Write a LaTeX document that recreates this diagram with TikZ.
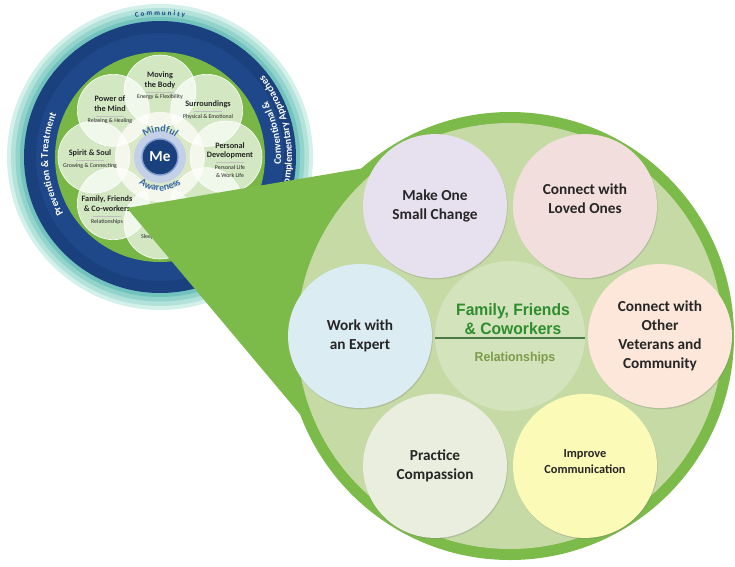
\documentclass[tikz,border=0pt]{standalone}
\usepackage{fontspec}
\setmainfont{Carlito}
\newfontfamily\titlefont[FakeStretch=0.95]{Liberation Sans}
\usepackage{tikz}
\usetikzlibrary{positioning, shadows, decorations.text}
\usepackage{xcolor}
\definecolor{ringgreen}{HTML}{7CBA4A}
\definecolor{wheelgreen}{HTML}{78B646}
\definecolor{innergreen}{HTML}{C5DAA4}
\definecolor{hubgreen}{HTML}{D3E3BB}
\definecolor{titlegreen}{HTML}{2F8C2F}
\definecolor{relgreen}{HTML}{7D9C4A}
\definecolor{rulegreen}{HTML}{4C7A44}
\definecolor{navy}{HTML}{1B407E}
\definecolor{navymid}{HTML}{1E4889}
\definecolor{tealA}{HTML}{D3F0EB}
\definecolor{tealB}{HTML}{B3E2DB}
\definecolor{tealC}{HTML}{92D3CC}
\definecolor{tealD}{HTML}{72C2BE}
\definecolor{palecore}{HTML}{DAE8C6}
\definecolor{halo}{HTML}{C3D0E8}
\definecolor{haloedge}{HTML}{7F9DD0}
\definecolor{mindblue}{HTML}{3567A8}
\definecolor{lavender}{HTML}{E6E0EF}
\definecolor{rosepink}{HTML}{F2DEDD}
\definecolor{skyblue}{HTML}{DCECF3}
\definecolor{peach}{HTML}{FCE7DA}
\definecolor{paleolive}{HTML}{E9EEDF}
\definecolor{paleyellow}{HTML}{FBFAB6}
\definecolor{inktext}{HTML}{262626}
\def\pxu{0.85pt}
\tikzstyle{bubble} = [circle, minimum size=144*\pxu, inner sep=0pt, align=center, text=inktext, font=\fontsize{13}{16}\selectfont\bfseries, drop shadow={opacity=0.3, shadow xshift=0.6pt, shadow yshift=-1.1pt}]
\tikzstyle{bubtxt} = [align=center, inner sep=0pt, text=inktext, font=\fontsize{13}{16}\selectfont\bfseries]
\tikzstyle{petal} = [circle, minimum size=72*\pxu, inner sep=0pt, fill=white, fill opacity=0.68, draw=white, line width=0.5pt]
\tikzstyle{petaltxt} = [align=center, inner sep=0pt, text=inktext, font=\fontsize{7}{8}\selectfont\bfseries]
\newcommand{\subline}[1]{{\fontsize{5}{6.5}\selectfont\mdseries #1}}
\newcommand{\petalrule}{\\[-4pt]{\color{black!25}\rule{24pt}{0.3pt}}\\[-2pt]}

\begin{document}
\begin{tikzpicture}[x=\pxu, y=\pxu,
    ringtxt/.style={decorate, decoration={text along path, text align=center}},
  ]
  \useasboundingbox (0,0) rectangle (735,-566);

  % small wheel
  \begin{scope}[shift={(160,-157)}]
    \fill[tealA] (0,0) circle (153);
    \fill[tealB] (0,0) circle (149);
    \fill[tealC] (0,0) circle (144.5);
    \fill[tealD] (0,0) circle (140);
    \fill[navy] (0,0) circle (136);
    \fill[navymid] (0,0) circle (124);
    \fill[wheelgreen] (0,0) circle (105);
    \fill[palecore] (0,0) circle (45);

    \node[petal] (pbody) at (90:66) {};
    \node[petal] (psurr) at (45:66) {};
    \node[petal] (pdev) at (0:66) {};
    \node[petal] (pfood) at (-45:66) {};
    \node[petal] (prest) at (-90:66) {};
    \node[petal] (pfam) at (-135:66) {};
    \node[petal] (psoul) at (180:66) {};
    \node[petal] (pmind) at (135:66) {};

    \fill[halo] (0,0) circle (26);
    \node[circle, fill=navy, draw=haloedge, line width=1.2pt, minimum size=36*\pxu, inner sep=0pt, text=white, font=\fontsize{13}{13}\selectfont\bfseries] (me) at (0,0) {Me};

    \node[petaltxt] (tbody) at (0,71) {Moving\\the Body\petalrule\subline{Energy \& Flexibility}};
    \node[petaltxt] (tsurr) at (48,47) {Surroundings\petalrule\subline{Physical \& Emotional}};
    \node[petaltxt] (tdev) at (70,-3) {Personal\\Development\petalrule\subline{Personal Life}\\[-1.5pt]\subline{\& Work Life}};
    \node[petaltxt] (tfam) at (-53,-53) {Family, Friends\\\& Co-workers\petalrule\subline{Relationships}};
    \node[petaltxt] (tsoul) at (-70,-2) {Spirit \& Soul\petalrule\subline{Growing \& Connecting}};
    \node[petaltxt] (tmind) at (-50,47) {Power of\\the Mind\petalrule\subline{Relaxing \& Healing}};
    \node[petaltxt] (trest) at (0,-80) {\subline{Sleep \& Refresh}};

    \path[ringtxt, decoration={text color=mindblue, text={|\fontsize{8.5}{9}\selectfont\bfseries|Mindful}}] (150:25) arc (150:30:25);
    \path[ringtxt, decoration={text color=mindblue, text={|\fontsize{8.5}{9}\selectfont\bfseries|Awareness}}] (205:34) arc (205:335:34);
    \path[decorate, decoration={text along path, text align={fit to path}, text color=navy, text={|\fontsize{6}{7}\selectfont\bfseries|Community}}] (100:142) arc (100:80:142);
    \path[ringtxt, decoration={text color=white, text={|\fontsize{8.7}{9}\selectfont\bfseries|Prevention {\&} Treatment}}] (240:112) arc (240:128:112);
    \path[ringtxt, decoration={text color=white, text={|\fontsize{8.7}{9}\selectfont\bfseries|Conventional {\&}}}] (-45:121) arc (-45:69:121);
    \path[ringtxt, decoration={text color=white, text={|\fontsize{8.7}{9}\selectfont\bfseries|Complementary Approaches}}] (-50:132) arc (-50:74:132);
  \end{scope}

  % callout wedge
  \coordinate (tip) at (127,-208);
  \coordinate (upper) at (400,-162);
  \coordinate (lower) at (330,-450);
  \coordinate (mid) at (510,-336);
  \fill[ringgreen] (tip) -- (upper) -- (mid) -- (lower) -- cycle;

  % big circle
  \begin{scope}[shift={(510,-336)}]
    \fill[ringgreen] (0,0) circle (224);
    \fill[innergreen] (0,0) circle (213);
    \node[circle, minimum size=150*\pxu, inner sep=0pt, fill=hubgreen] (hub) at (0,0) {};
    \node[bubble, fill=lavender] (change) at (120:150) {Make One\\Small Change};
    \node[bubble, fill=rosepink] (loved) at (60:150) {};
    \node[bubble, fill=skyblue] (expert) at (180:150) {Work with\\an Expert};
    \node[bubble, fill=peach] (veterans) at (0:150) {Connect with\\Other\\Veterans and\\Community};
    \node[bubble, fill=paleolive] (compassion) at (240:150) {Practice\\Compassion};
    \node[bubble, fill=paleyellow] (communication) at (300:150) {};
  \end{scope}
  \node[bubtxt] (lovedtxt) at ([yshift=6pt]loved.center) {Connect with\\Loved Ones};
  \node[bubtxt, font=\fontsize{10.5}{13.5}\selectfont\bfseries] (commtxt) at ([yshift=4pt]communication.center) {Improve\\Communication};

  \node[font=\titlefont\fontsize{14}{16}\selectfont\bfseries, text=titlegreen, align=center, inner sep=0pt] (title) at (513,-319) {Family, Friends\\\& Coworkers};
  \draw[rulegreen, line width=1.3pt] ([yshift=-1.7pt]hub.west) -- ([yshift=-1.7pt]hub.east);
  \node[font=\titlefont\fontsize{11}{13}\selectfont\bfseries, text=relgreen, inner sep=0pt] (rel) at (515,-358) {Relationships};

\end{tikzpicture}
\end{document}
